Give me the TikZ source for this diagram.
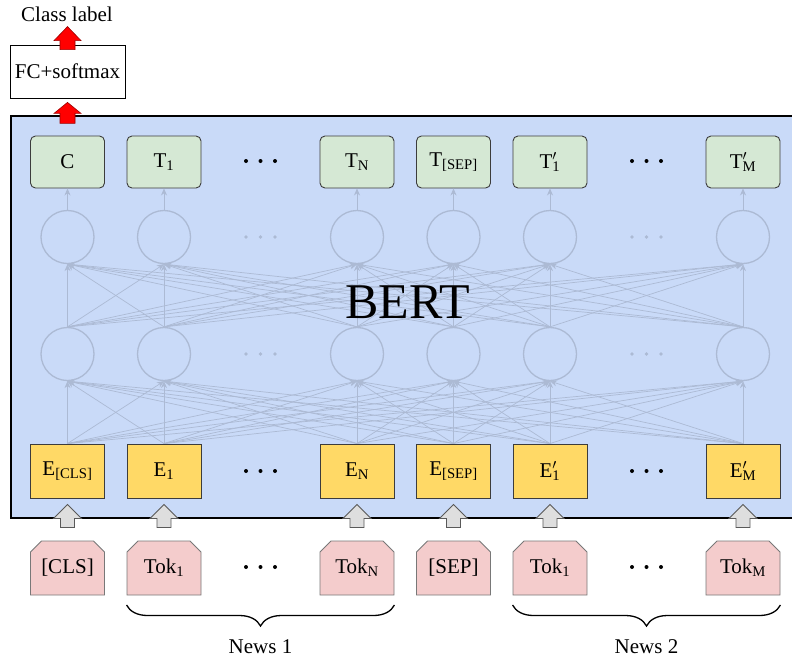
\documentclass[tikz,border=0pt]{standalone}
\usepackage{fontspec}
\setmainfont{Liberation Serif}
\usetikzlibrary{shapes.misc,decorations.pathreplacing,arrows.meta,calc}
\definecolor{bertbg}{RGB}{201,218,248}
\definecolor{tgreen}{RGB}{213,232,212}
\definecolor{egold}{RGB}{255,217,102}
\definecolor{tokpink}{RGB}{244,204,204}
\definecolor{netc}{RGB}{172,186,212}
\definecolor{boxline}{RGB}{60,60,60}
\definecolor{tokline}{RGB}{120,120,120}
\newcommand\primesub[2]{#1\rlap{$'$}\textsubscript{#2}}
\begin{document}
\begin{tikzpicture}[x=1pt,y=-1pt,
  font=\fontsize{21}{25}\selectfont,
  tbox/.style={draw=boxline, fill=tgreen, rounded corners=5pt, line width=0.9pt,
    minimum width=74pt, minimum height=52pt, inner sep=0pt},
  ebox/.style={draw=boxline, fill=egold, line width=0.9pt,
    minimum width=74pt, minimum height=54pt, inner sep=0pt},
  tokbox/.style={chamfered rectangle, chamfered rectangle corners={north west,north east},
    chamfered rectangle xsep=8pt, draw=tokline, fill=tokpink, line width=0.9pt,
    minimum width=74pt, minimum height=54pt, inner sep=0pt},
  neuron/.style={circle, draw=netc, line width=1.3pt, minimum size=53pt, inner sep=0pt},
  conn/.style={draw=netc, line width=0.7pt, -{Stealth[length=7pt,width=6pt]}},
  redarrow/.style={fill=red, draw=red!60!black, line width=0.6pt},
  grayarrow/.style={fill=black!13, draw=black!65, line width=0.8pt},
  bracestyle/.style={decorate, decoration={brace, mirror, amplitude=21pt}, line width=1.3pt},
]
\clip (0,0) rectangle (792,662);

% encoder block
\node[draw=black, fill=bertbg, line width=2pt, anchor=north west,
      minimum width=800pt, minimum height=402pt, inner sep=0pt] (bert) at (10,115) {};

% hidden layers
\foreach \i in {0,1,3,4,5,7} {
  \node[neuron] (u\i) at (67.5+96.5*\i, 237) {};
  \node[neuron] (l\i) at (67.5+96.5*\i, 354) {};
}

% output, embedding and token rows
\foreach \i/\lab in {0/C, 1/T\textsubscript{1}, 3/T\textsubscript{N}, 4/T\textsubscript{[SEP]},
                     5/\primesub{T}{1}, 7/\primesub{T}{M}}
  \node[tbox] (t\i) at (67.5+96.5*\i, 162) {\lab};
\foreach \i/\lab in {0/E\textsubscript{[CLS]}, 1/E\textsubscript{1}, 3/E\textsubscript{N}, 4/E\textsubscript{[SEP]},
                     5/\primesub{E}{1}, 7/\primesub{E}{M}}
  \node[ebox] (e\i) at (67.5+96.5*\i, 471) {\lab};
\foreach \i/\lab in {0/[CLS], 1/Tok\textsubscript{1}, 3/Tok\textsubscript{N}, 4/[SEP],
                     5/Tok\textsubscript{1}, 7/Tok\textsubscript{M}}
  \node[tokbox] (tok\i) at (67.5+96.5*\i, 568) {\lab};

% fully connected layers
\foreach \i in {0,1,3,4,5,7} {
  \foreach \j in {0,1,3,4,5,7} {
    \draw[conn] (e\i.north) -- (l\j.south);
    \draw[conn] (l\i.north) -- (u\j.south);
  }
  \draw[conn] (u\i.north) -- (t\i.south);
}

% ellipses
\foreach \c in {2,6} {
  \foreach \k in {-1,0,1} {
    \fill (67.5+96.5*\c+14.5*\k, 161) circle (2pt);
    \fill (67.5+96.5*\c+14.5*\k, 471) circle (2pt);
    \fill (67.5+96.5*\c+14.5*\k, 567) circle (2pt);
    \fill[netc] (67.5+96.5*\c+14.5*\k, 237) circle (1.8pt);
    \fill[netc] (67.5+96.5*\c+14.5*\k, 354) circle (1.8pt);
  }
}

\node[font=\fontsize{50}{56}\selectfont] (bertlabel) at (407.5,302) {BERT};

% classifier head
\node[draw=black, fill=white, line width=0.8pt, minimum width=115pt, minimum height=53pt,
      inner sep=0pt] (fc) at (67.5,71.5) {FC+softmax};
\node (cls) at (67,14) {Class label};

% block arrows
\coordinate (r1) at ($(fc.north)+(0,-18)$);
\coordinate (r2) at ($(fc.south)+(0,4)$);
\draw[redarrow] (r1) -- ++(13.5,14) -- ++(-6,0) -- ++(0,9) -- ++(-15,0) -- ++(0,-9) -- ++(-6,0) -- cycle;
\draw[redarrow] (r2) -- ++(13.5,11) -- ++(-6,0) -- ++(0,10) -- ++(-15,0) -- ++(0,-10) -- ++(-6,0) -- cycle;
\foreach \i in {0,1,3,4,5,7} {
  \coordinate (g\i) at ($(e\i.south)+(0,6)$);
  \draw[grayarrow] (g\i) -- ++(14,14) -- ++(-7,0) -- ++(0,9) -- ++(-14,0) -- ++(0,-9) -- ++(-7,0) -- cycle;
}

% segment braces
\draw[bracestyle] (tok1.south west |- 0,605) coordinate (b1s) -- (tok3.south east |- 0,605) coordinate (b1e);
\draw[bracestyle] (tok5.south west |- 0,605) coordinate (b2s) -- (tok7.south east |- 0,605) coordinate (b2e);
\node (news1) at ($(b1s)!0.5!(b1e)+(0,42)$) {News 1};
\node (news2) at ($(b2s)!0.5!(b2e)+(0,42)$) {News 2};
\end{tikzpicture}
\end{document}
